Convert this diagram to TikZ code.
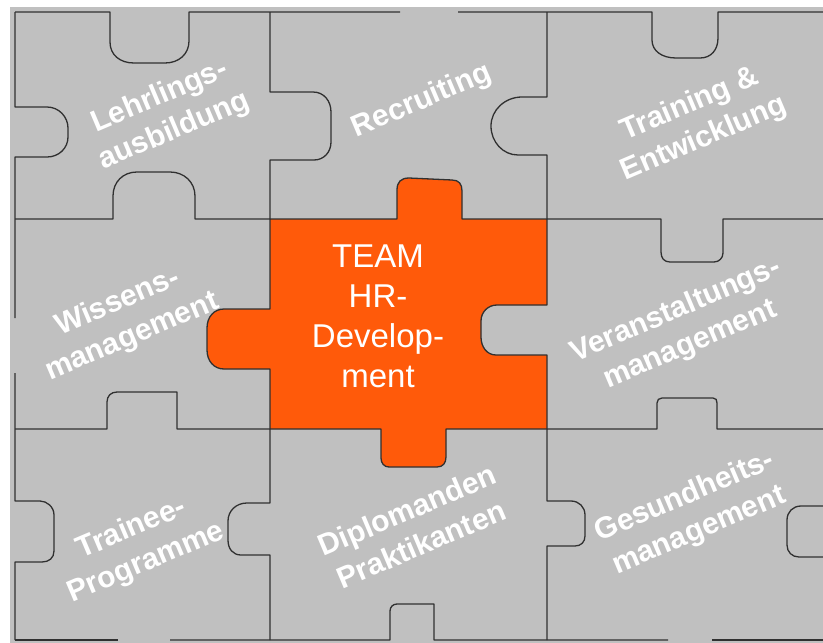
\documentclass[tikz,border=0pt]{standalone}
\usepackage{fontspec}
\setmainfont{Liberation Sans}
\definecolor{tilegrey}{HTML}{C0C0C0}
\definecolor{teamorange}{HTML}{FF5A0A}
\definecolor{seamgrey}{HTML}{303030}
\tikzset{
  seam/.style={draw=seamgrey,line width=1.3pt,line join=round},
  teampiece/.style={fill=teamorange,draw=seamgrey,line width=1.3pt,line join=round},
  tilelabel/.style={text=white,align=center,rotate=23,inner sep=0pt,
    font=\fontsize{30}{37}\selectfont\bfseries},
  teamlabel/.style={text=white,align=center,inner sep=0pt,
    font=\fontsize{33}{40}\selectfont}
}
\begin{document}
\begin{tikzpicture}[x=1pt,y=-1pt]
\useasboundingbox (0,0) rectangle (823,643);
\fill[tilegrey] (10,7) rectangle (823,643);
% the orange piece in the middle
\path[teampiece] (270,219) -- (397,219) -- (397,190) .. controls (397,182) and (401,178) .. (409,178)
  -- (452,180) .. controls (459,180) and (462,184) .. (462,191) -- (462,219) -- (547,219)
  -- (547,305) -- (497,305) .. controls (488,305) and (481,312) .. (481,321)
  -- (481,337) .. controls (481,347) and (487,355) .. (496,355) -- (547,355) -- (547,429)
  -- (446,429) -- (446,457) .. controls (446,463) and (443,467) .. (437,467)
  -- (389,467) .. controls (384,467) and (381,463) .. (381,458) -- (381,429) -- (270,429)
  -- (270,369) -- (224,369) .. controls (214,369) and (207,361) .. (207,350)
  -- (207,328) .. controls (207,317) and (214,309) .. (224,309) -- (270,309) -- cycle;
% horizontal seams
\draw[seam] (15,12) -- (110,12) -- (110,42) .. controls (110,55) and (120,63) .. (134,63)
  -- (165,63) .. controls (179,63) and (189,54) .. (189,41) -- (189,12) -- (400,12);
\draw[seam] (458,12) -- (652,12) -- (652,40) .. controls (652,51) and (662,58) .. (676,58)
  -- (700,58) .. controls (711,58) and (718,50) .. (718,38) -- (718,12) -- (823,12);
\draw[seam] (15,219) -- (113,219) -- (113,196) .. controls (113,182) and (123,172) .. (137,172)
  -- (170,172) .. controls (184,172) and (195,182) .. (195,196) -- (195,219) -- (270,219);
\draw[seam] (547,219) -- (661,219) -- (661,252) .. controls (661,258) and (664,262) .. (670,262)
  -- (714,262) .. controls (719,262) and (723,258) .. (723,253) -- (723,219) -- (823,219);
\draw[seam] (15,429) -- (107,429) -- (107,402) .. controls (107,396) and (111,392) .. (117,392)
  -- (177,392) -- (177,429) -- (270,429);
\draw[seam] (547,429) -- (657,429) -- (657,403) .. controls (657,400) and (659,398) .. (662,398)
  -- (713,398) .. controls (716,398) and (717,400) .. (717,403) -- (717,429) -- (823,429);
\draw[seam] (15,640) -- (118,640);
\draw[seam] (170,640) -- (390,640) -- (390,611) .. controls (390,607) and (393,604) .. (397,604)
  -- (434,604) -- (434,640) -- (668,640);
\draw[seam] (712,640) -- (823,640);
% vertical seams
\draw[seam] (15,12) -- (15,107) -- (47,107) .. controls (59,107) and (68,117) .. (68,128)
  -- (68,137) .. controls (68,148) and (59,157) .. (47,157) -- (15,157) -- (15,318);
\draw[seam] (15,373) -- (15,501) -- (40,501) .. controls (47,501) and (54,507) .. (54,515)
  -- (54,551) .. controls (54,558) and (49,562) .. (42,562) -- (15,562) -- (15,640);
\draw[seam] (270,12) -- (270,92) -- (313,92) .. controls (324,92) and (331,101) .. (331,112)
  -- (331,142) .. controls (331,152) and (324,160) .. (314,160) -- (270,160) -- (270,219);
\draw[seam] (270,429) -- (270,503) -- (247,503) .. controls (236,503) and (228,511) .. (228,521)
  -- (228,540) .. controls (228,549) and (233,555) .. (241,555) -- (270,555) -- (270,640);
\draw[seam] (547,12) -- (547,97) -- (522,97) .. controls (505,97) and (491,110) .. (491,126)
  .. controls (491,142) and (503,155) .. (518,155) -- (547,155) -- (547,219);
\draw[seam] (547,429) -- (547,501) -- (571,501) .. controls (579,501) and (585,507) .. (585,515)
  -- (585,536) .. controls (585,542) and (581,546) .. (575,546) -- (547,546) -- (547,640);
\draw[seam] (823,506) -- (801,506) .. controls (793,506) and (787,512) .. (787,520)
  -- (787,545) .. controls (787,552) and (792,557) .. (799,557) -- (823,557);
% labels
\node[tilelabel] (lehr) at (167,114) {Lehrlings-\\ausbildung};
\node[tilelabel] (recr) at (422,101) {Recruiting};
\node[tilelabel] (train) at (697,122) {Training \&\\Entwicklung};
\node[tilelabel] (wiss) at (125,320) {Wissens-\\management};
\node[teamlabel] (team) at (378,316) {TEAM\\HR-\\Develop-\\ment};
\node[tilelabel] (veran) at (683,328) {Veranstaltungs-\\management};
\node[tilelabel] (trainee) at (139,546) {Trainee-\\Programme};
\node[tilelabel] (diplom) at (414,527) {Diplomanden\\Praktikanten};
\node[tilelabel] (gesund) at (692,514) {Gesundheits-\\management};
\end{tikzpicture}
\end{document}
